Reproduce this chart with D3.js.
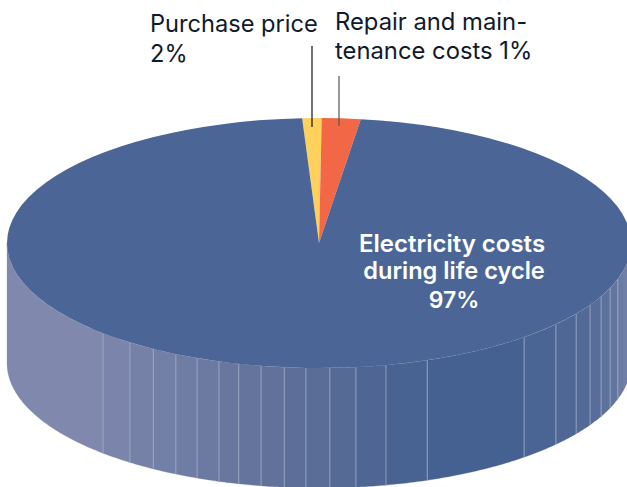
<!DOCTYPE html>
<html><head><meta charset="utf-8">
<script src="https://cdn.jsdelivr.net/npm/d3@7"></script>
<style>html,body{margin:0;padding:0;background:#fff}svg{display:block}</style></head>
<body><div id="c"></div>
<script>
// Drawn pie shares (as pictured, the label percentages differ from the wedge widths)
const sliceNames = ["Purchase price","Repair and maintenance costs","Electricity costs during life cycle"];
const sliceShares = [1, 2, 97];
const sliceColors = ["#fdd15c","#f26846","#4b6696"];
// Side wall band boundaries, degrees from front centre
const bandEdges = [-90,-43.8,-37.3,-32.1,-27.3,-23,-18.7,-14.9,-10.7,-6.4,-2.4,2,6.8,12.4,20.3,41.1,49.4,55.5,60.3,64.7,68.9,73.3,77,90];
const bandColors = ["#8088ad","#7b85ab","#7681a8","#727fa6","#6f7ca4","#6c79a1","#69779e","#65749c","#617199","#5d6e98","#5a6d97","#566a96","#4f6694","#486291","#446192","#4a6594","#4e6795","#536a97","#586d9a","#5d719d","#6274a0","#6a7aa3","#707fa7"];

const W = 627, H = 487;
const cx = 319, cy = 243, rx = 312, ry = 125, depth = 120;
const svg = d3.select("#c").append("svg").attr("width", W).attr("height", H).style("font-family", "Inter, Roboto, sans-serif");

const angle = d3.scaleLinear().domain([0, 360]).range([0, 2 * Math.PI]);
const px = t => cx + rx * Math.sin(angle(t));
const py = t => cy + ry * Math.cos(angle(t));

// side wall
const band = d3.area().x(d => px(d)).y0(d => py(d)).y1(d => py(d) + depth);
bandColors.forEach((c, i) => {
  const a = bandEdges[i], b = bandEdges[i + 1];
  const pts = d3.range(a, b, 0.5).concat([b]);
  svg.append("path").attr("d", band(pts)).attr("fill", c).attr("stroke", c).attr("stroke-width", 0.3);
});
svg.append("g").selectAll("line").data(bandEdges.slice(1, -2)).join("line")
  .attr("x1", d => px(d)).attr("x2", d => px(d))
  .attr("y1", d => py(d)).attr("y2", d => py(d) + depth)
  .attr("stroke", "#a3aec9").attr("stroke-width", 0.8);

// top
const pie = d3.pie().sort(null).value(d => d).startAngle(angle(-3.1)).endAngle(angle(356.9));
const arc = d3.arc().innerRadius(0).outerRadius(rx);
svg.append("g").attr("transform", `translate(${cx},${cy}) scale(1,${ry / rx})`)
  .selectAll("path").data(pie(sliceShares)).join("path")
  .attr("d", arc).attr("fill", (d, i) => sliceColors[i]);

// leaders
const leaders = [[312, 46, 127, "#111"], [339, 76, 126, "#555"]];
svg.selectAll(".l").data(leaders).join("line").attr("x1", d => d[0]).attr("x2", d => d[0])
  .attr("y1", d => d[1]).attr("y2", d => d[2]).attr("stroke", d => d[3]).attr("stroke-width", 1.2);

// labels
const labels = [
  {t:"Purchase price", x:150, y:32, c:"#101a2c", w:400, a:"start", s:23.6},
  {t:"2%", x:150, y:62, c:"#101a2c", w:400, a:"start", s:23.6},
  {t:"Repair and main-", x:335, y:30, c:"#101a2c", w:400, a:"start", s:23.8},
  {t:"tenance costs 1%", x:335, y:59, c:"#101a2c", w:400, a:"start", s:23.8},
  {t:"Electricity costs", x:452, y:252, c:"#fff", w:600, a:"middle", s:24},
  {t:"during life cycle", x:454, y:279, c:"#fff", w:600, a:"middle", s:23.6},
  {t:"97%", x:454, y:308, c:"#fff", w:600, a:"middle", s:23}
];
svg.selectAll(".t").data(labels).join("text").text(d => d.t)
  .attr("x", d => d.x).attr("y", d => d.y).attr("fill", d => d.c)
  .attr("font-weight", d => d.w).attr("text-anchor", d => d.a).attr("font-size", d => d.s);
</script></body></html>
